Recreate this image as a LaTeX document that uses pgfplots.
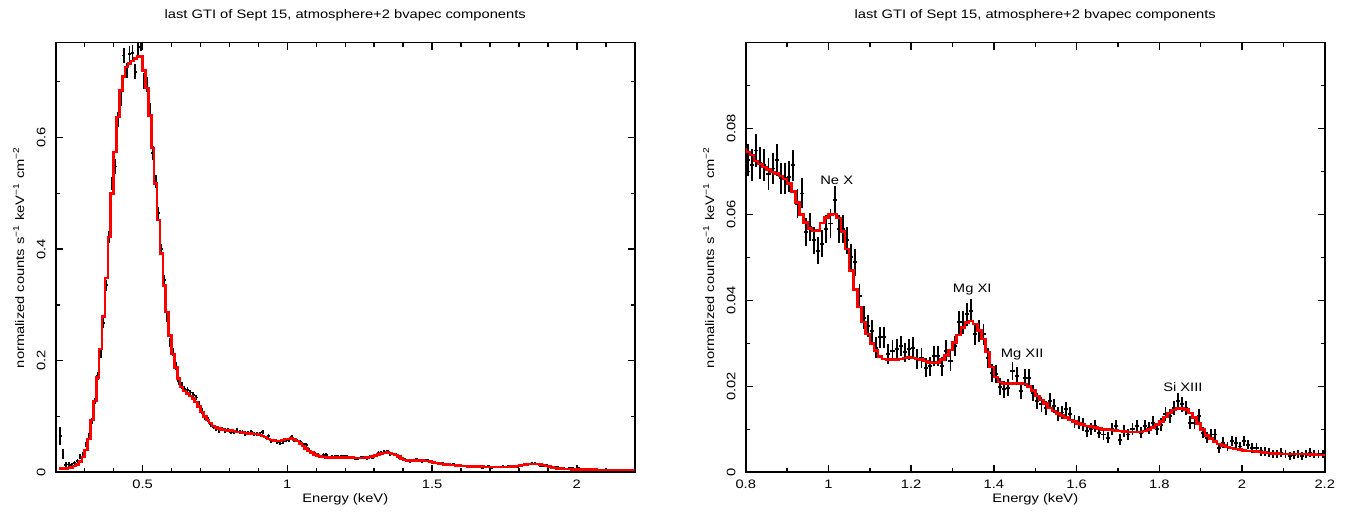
\documentclass[border=0pt]{standalone}
\usepackage{fontspec}
\setmainfont{Liberation Sans}[FakeStretch=1.2]
\usepackage{pgfplots}
\usepackage{pgfplotstable}
\pgfplotsset{compat=1.18}
\pgfplotstableread{
lo c m d e
0.210 0.215 0.007 0.065 0.016
0.220 0.225 0.007 0.033 0.009
0.230 0.235 0.007 0.013 0.005
0.240 0.245 0.008 0.014 0.004
0.250 0.255 0.009 0.013 0.004
0.260 0.265 0.011 0.016 0.004
0.270 0.275 0.014 0.020 0.004
0.280 0.285 0.019 0.028 0.004
0.290 0.295 0.027 0.032 0.004
0.300 0.305 0.040 0.050 0.005
0.310 0.315 0.060 0.066 0.005
0.320 0.325 0.094 0.092 0.006
0.330 0.335 0.128 0.128 0.006
0.340 0.345 0.170 0.173 0.007
0.350 0.355 0.221 0.213 0.008
0.360 0.365 0.279 0.268 0.009
0.370 0.375 0.348 0.335 0.010
0.380 0.385 0.422 0.422 0.011
0.390 0.395 0.500 0.518 0.012
0.400 0.405 0.574 0.548 0.013
0.410 0.415 0.637 0.632 0.013
0.420 0.425 0.684 0.671 0.014
0.430 0.435 0.709 0.747 0.014
0.440 0.445 0.726 0.720 0.014
0.450 0.455 0.733 0.750 0.014
0.460 0.465 0.737 0.751 0.014
0.470 0.475 0.742 0.718 0.014
0.480 0.485 0.745 0.762 0.014
0.490 0.495 0.746 0.769 0.014
0.500 0.505 0.720 0.701 0.014
0.510 0.515 0.689 0.695 0.014
0.520 0.525 0.639 0.649 0.013
0.530 0.535 0.581 0.572 0.013
0.540 0.545 0.518 0.521 0.012
0.550 0.555 0.452 0.464 0.011
0.560 0.565 0.392 0.400 0.010
0.570 0.575 0.335 0.344 0.009
0.580 0.585 0.287 0.278 0.009
0.590 0.595 0.245 0.232 0.008
0.600 0.605 0.212 0.215 0.007
0.610 0.615 0.188 0.190 0.007
0.620 0.625 0.168 0.163 0.006
0.630 0.635 0.153 0.155 0.006
0.640 0.645 0.146 0.150 0.005
0.650 0.655 0.141 0.147 0.005
0.660 0.665 0.137 0.143 0.005
0.670 0.675 0.132 0.139 0.005
0.680 0.685 0.126 0.134 0.005
0.690 0.695 0.118 0.122 0.005
0.700 0.705 0.108 0.110 0.005
0.710 0.715 0.100 0.099 0.0045
0.720 0.725 0.094 0.094 0.0043
0.730 0.735 0.088 0.086 0.0042
0.740 0.745 0.083 0.081 0.0040
0.750 0.755 0.080 0.078 0.0040
0.760 0.765 0.078 0.075 0.0040
0.770 0.775 0.0765 0.077 0.0039
0.780 0.785 0.0757 0.075 0.0038
0.790 0.795 0.0751 0.076 0.0038
0.800 0.805 0.0745 0.0727 0.0037
0.810 0.815 0.0738 0.0715 0.0037
0.820 0.825 0.0725 0.0749 0.0038
0.830 0.835 0.0718 0.0720 0.0037
0.840 0.845 0.0711 0.0716 0.0037
0.850 0.855 0.0705 0.0694 0.0037
0.860 0.865 0.0699 0.0707 0.0037
0.870 0.875 0.0695 0.0727 0.0037
0.880 0.885 0.0690 0.0684 0.0036
0.890 0.895 0.0683 0.0684 0.0036
0.900 0.905 0.0672 0.0688 0.0036
0.910 0.915 0.0653 0.0715 0.0036
0.920 0.925 0.0628 0.0625 0.0034
0.930 0.935 0.0600 0.0649 0.0035
0.940 0.945 0.0582 0.0559 0.0033
0.950 0.955 0.0568 0.0571 0.0033
0.960 0.965 0.0562 0.0540 0.0032
0.970 0.975 0.0563 0.0516 0.0032
0.980 0.985 0.0580 0.0532 0.0032
0.990 0.995 0.0593 0.0567 0.0033
1.000 1.005 0.0600 0.0579 0.0033
1.010 1.015 0.0601 0.0633 0.0034
1.020 1.025 0.0592 0.0567 0.0033
1.030 1.035 0.0560 0.0567 0.0033
1.040 1.045 0.0520 0.0540 0.0032
1.050 1.055 0.0470 0.0501 0.0031
1.060 1.065 0.0425 0.0489 0.0031
1.070 1.075 0.0385 0.0411 0.0028
1.080 1.085 0.0350 0.0360 0.0027
1.090 1.095 0.0322 0.0341 0.0026
1.100 1.105 0.0300 0.0329 0.0025
1.110 1.115 0.0283 0.0290 0.0024
1.120 1.125 0.0270 0.0314 0.0025
1.130 1.135 0.0264 0.0314 0.0025
1.140 1.145 0.0262 0.0275 0.0023
1.150 1.155 0.0262 0.0283 0.0024
1.160 1.165 0.0262 0.0286 0.0024
1.170 1.175 0.0264 0.0294 0.0024
1.180 1.185 0.0266 0.0279 0.0023
1.190 1.195 0.0267 0.0286 0.0024
1.200 1.205 0.0266 0.0290 0.0024
1.210 1.215 0.0264 0.0263 0.0023
1.220 1.225 0.0262 0.0266 0.0023
1.230 1.235 0.0259 0.0243 0.0022
1.240 1.245 0.0256 0.0247 0.0022
1.250 1.255 0.0254 0.0271 0.0023
1.260 1.265 0.0256 0.0271 0.0023
1.270 1.275 0.0263 0.0247 0.0022
1.280 1.285 0.0272 0.0283 0.0024
1.290 1.295 0.0285 0.0259 0.0023
1.300 1.305 0.0302 0.0294 0.0024
1.310 1.315 0.0320 0.0349 0.0026
1.320 1.325 0.0337 0.0349 0.0026
1.330 1.335 0.0348 0.0368 0.0027
1.340 1.345 0.0352 0.0376 0.0027
1.350 1.355 0.0345 0.0321 0.0025
1.360 1.365 0.0330 0.0329 0.0025
1.370 1.375 0.0310 0.0321 0.0025
1.380 1.385 0.0280 0.0266 0.0023
1.390 1.395 0.0245 0.0232 0.0021
1.400 1.405 0.0222 0.0228 0.0021
1.410 1.415 0.0210 0.0199 0.0020
1.420 1.425 0.0207 0.0193 0.0019
1.430 1.435 0.0206 0.0197 0.0020
1.440 1.445 0.0207 0.0236 0.0021
1.450 1.455 0.0208 0.0224 0.0021
1.460 1.465 0.0207 0.0189 0.0019
1.470 1.475 0.0205 0.0220 0.0020
1.480 1.485 0.0200 0.0220 0.0020
1.490 1.495 0.0190 0.0185 0.0019
1.500 1.505 0.0178 0.0166 0.0018
1.510 1.515 0.0168 0.0158 0.0018
1.520 1.525 0.0160 0.0150 0.0017
1.530 1.535 0.0150 0.0166 0.0018
1.540 1.545 0.0143 0.0154 0.0017
1.550 1.555 0.0137 0.0135 0.0016
1.560 1.565 0.0132 0.0139 0.0016
1.570 1.575 0.0127 0.0147 0.0017
1.580 1.585 0.0122 0.0135 0.0016
1.590 1.595 0.0118 0.0119 0.0015
1.600 1.605 0.0114 0.0115 0.0015
1.610 1.615 0.0111 0.0111 0.0015
1.620 1.625 0.0108 0.0096 0.0014
1.630 1.635 0.0106 0.0100 0.0014
1.640 1.645 0.0104 0.0107 0.0014
1.650 1.655 0.0102 0.0092 0.0013
1.660 1.665 0.0100 0.0088 0.0013
1.670 1.675 0.0099 0.0080 0.0013
1.680 1.685 0.0098 0.0100 0.0014
1.690 1.695 0.0097 0.0107 0.0014
1.700 1.705 0.0096 0.0076 0.0012
1.710 1.715 0.0095 0.0096 0.0014
1.720 1.725 0.0094 0.0088 0.0013
1.730 1.735 0.0094 0.0100 0.0014
1.740 1.745 0.0094 0.0107 0.0014
1.750 1.755 0.0094 0.0092 0.0013
1.760 1.765 0.0096 0.0107 0.0014
1.770 1.775 0.0099 0.0104 0.0014
1.780 1.785 0.0104 0.0115 0.0015
1.790 1.795 0.0111 0.0100 0.0014
1.800 1.805 0.0118 0.0111 0.0015
1.810 1.815 0.0129 0.0135 0.0016
1.820 1.825 0.0138 0.0131 0.0016
1.830 1.835 0.0145 0.0150 0.0017
1.840 1.845 0.0148 0.0166 0.0018
1.850 1.855 0.0148 0.0158 0.0018
1.860 1.865 0.0146 0.0150 0.0017
1.870 1.875 0.0138 0.0115 0.0015
1.880 1.885 0.0127 0.0115 0.0015
1.890 1.895 0.0114 0.0131 0.0016
1.900 1.905 0.0099 0.0092 0.0013
1.910 1.915 0.0086 0.0080 0.0013
1.920 1.925 0.0078 0.0088 0.0013
1.930 1.935 0.0072 0.0088 0.0013
1.940 1.945 0.0066 0.0057 0.0011
1.950 1.955 0.0062 0.0069 0.0012
1.960 1.965 0.0059 0.0060 0.0011
1.970 1.975 0.0056 0.0072 0.0012
1.980 1.985 0.0054 0.0069 0.0012
1.990 1.995 0.0053 0.0060 0.0011
2.000 2.005 0.0051 0.0072 0.0012
2.010 2.015 0.0050 0.0064 0.0011
2.020 2.025 0.0049 0.0057 0.0011
2.030 2.035 0.0048 0.0057 0.0011
2.040 2.045 0.0047 0.0049 0.0010
2.050 2.055 0.0046 0.0048 0.0010
2.060 2.065 0.0045 0.0046 0.0010
2.070 2.075 0.0044 0.0042 0.0009
2.080 2.085 0.0044 0.0043 0.0009
2.090 2.095 0.0043 0.0046 0.0010
2.100 2.105 0.0043 0.0042 0.0009
2.110 2.115 0.0042 0.0038 0.0009
2.120 2.125 0.0042 0.0041 0.0009
2.130 2.135 0.0042 0.0042 0.0009
2.140 2.145 0.0042 0.0038 0.0009
2.150 2.155 0.0042 0.0043 0.0009
2.160 2.165 0.0041 0.0046 0.0010
2.170 2.175 0.0041 0.0043 0.0009
2.180 2.185 0.0040 0.0042 0.0009
2.190 2.195 0.0040 0.0042 0.0009
2.200 2.205 0.0040 nan nan
}\spec

\pgfplotsset{
  specaxis/.style={
    scale only axis, width=434.25pt, height=322.2pt,
    anchor=south west, clip mode=individual,
    axis line style={line width=1.2pt, black},
    tick style={line width=1.1pt, black},
    major tick length=5.25pt, minor tick length=3pt,
    tick align=inside,
    xticklabel style={anchor=north, inner sep=0pt},
    xticklabel shift=5.8pt,
    yticklabel style={rotate=90, anchor=south, inner sep=0pt},
    yticklabel shift=7.5pt,
    xlabel style={at={(axis description cs:0.5,-0.0703)}, anchor=base, inner sep=0pt},
    ylabel style={at={(axis description cs:-0.0544,0.5)}, anchor=base, inner sep=0pt},
    xlabel={Energy (keV)},
    ylabel={normalized counts s\textsuperscript{−1} keV\textsuperscript{−1} cm\textsuperscript{−2}},
  },
  dataplot/.style={draw=none, mark=none,
    error bars/x dir=both, error bars/x fixed=0.005,
    error bars/y dir=both, error bars/y explicit,
    error bars/error mark=none,
    error bars/error bar style={draw=black, solid, line width=1.4pt}},
  modelplot/.style={red, line width=1.9pt, const plot mark left},
}

\begin{document}
\begin{tikzpicture}[font=\fontsize{9.2}{11}\selectfont]
\useasboundingbox (-41.8pt,-31.3pt) rectangle (975.2pt,354.2pt);
\begin{axis}[specaxis, at={(0pt,0pt)},
  xmin=0.2, xmax=2.2, ymin=0, ymax=0.77,
  xtick={0.5,1,1.5,2}, xticklabels={0.5,1,1.5,2},
  minor xtick={0.3,0.4,0.6,0.7,0.8,0.9,1.1,1.2,1.3,1.4,1.6,1.7,1.8,1.9,2.1},
  ytick={0,0.2,0.4,0.6}, yticklabels={0,0.2,0.4,0.6},
  minor ytick={0.1,0.3,0.5,0.7}]
\addplot[dataplot] table[x=c, y=d, y error=e] {\spec};
\addplot[modelplot] table[x=lo, y=m] {\spec};
\node[anchor=base, inner sep=0pt] at (axis description cs:0.5,1.0552) {last GTI of Sept 15, atmosphere+2 bvapec components};
\end{axis}
\begin{axis}[specaxis, at={(517.5pt,0pt)},
  xmin=0.8, xmax=2.2, ymin=0, ymax=0.1,
  xtick={0.8,1,1.2,1.4,1.6,1.8,2,2.2}, xticklabels={0.8,1,1.2,1.4,1.6,1.8,2,2.2},
  minor xtick={0.9,1.1,1.3,1.5,1.7,1.9,2.1},
  ytick={0,0.02,0.04,0.06,0.08}, yticklabels={0,0.02,0.04,0.06,0.08},
  minor ytick={0.01,0.03,0.05,0.07,0.09}]
\addplot[dataplot] table[x=c, y=d, y error=e] {\spec};
\addplot[modelplot] table[x=lo, y=m] {\spec};
\node[anchor=base, inner sep=0pt] at (axis description cs:0.5,1.0552) {last GTI of Sept 15, atmosphere+2 bvapec components};
\node[anchor=base, inner sep=0pt] at (axis cs:1.020,0.0669) {Ne X};
\node[anchor=base, inner sep=0pt] at (axis cs:1.3476,0.0418) {Mg XI};
\node[anchor=base, inner sep=0pt] at (axis cs:1.4685,0.0268) {Mg XII};
\node[anchor=base, inner sep=0pt] at (axis cs:1.857,0.0187) {Si XIII};
\end{axis}
\end{tikzpicture}
\end{document}
